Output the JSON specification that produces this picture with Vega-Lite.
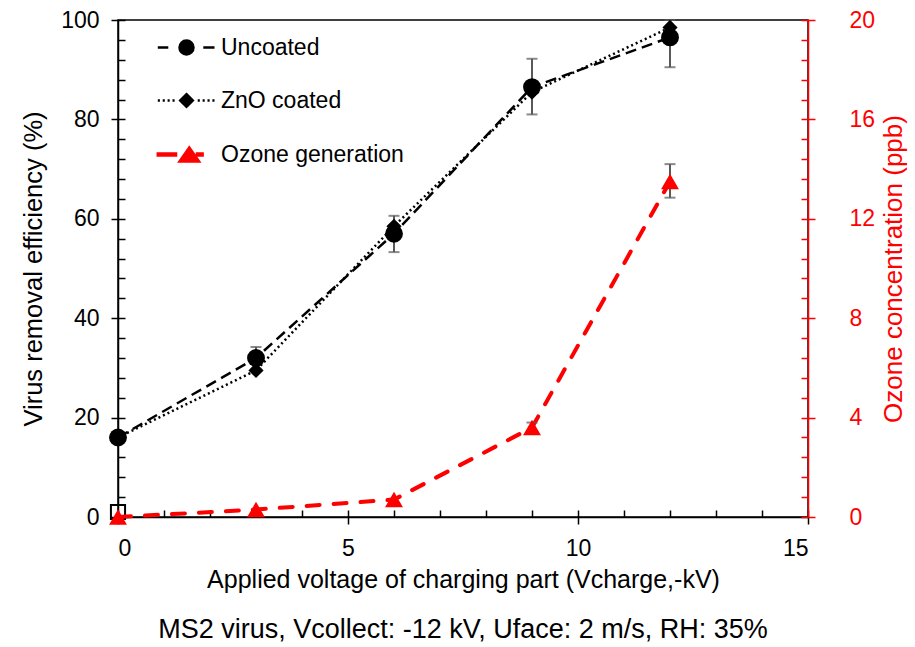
{
  "$schema": "https://vega.github.io/schema/vega-lite/v6.json",
  "width": 690,
  "height": 497,
  "autosize": "none",
  "padding": {"left": 118, "top": 20, "right": 107, "bottom": 130},
  "background": "white",
  "config": {
    "font": "Liberation Sans",
    "view": {"stroke": "black", "strokeWidth": 1.5},
    "axis": {"grid": false, "tickColor": "black", "domainColor": "black", "tickWidth": 1.5, "domainWidth": 1.5, "labelColor": "black", "titleColor": "black", "titleFontWeight": "normal", "labelFont": "Liberation Sans", "titleFont": "Liberation Sans"}
  },
  "title": {
    "text": "MS2 virus, Vcollect: -12 kV, Uface: 2 m/s, RH: 35%",
    "orient": "bottom",
    "anchor": "middle",
    "fontSize": 27,
    "fontWeight": "normal",
    "font": "Liberation Sans",
    "color": "black",
    "offset": 25
  },
  "datasets": {
    "virus": [
      {"v": 0, "series": "Uncoated", "eff": 16},
      {"v": 3, "series": "Uncoated", "eff": 32},
      {"v": 6, "series": "Uncoated", "eff": 57},
      {"v": 9, "series": "Uncoated", "eff": 86.5},
      {"v": 12, "series": "Uncoated", "eff": 96.5},
      {"v": 0, "series": "ZnO coated", "eff": 16},
      {"v": 3, "series": "ZnO coated", "eff": 29.5},
      {"v": 6, "series": "ZnO coated", "eff": 58.5},
      {"v": 9, "series": "ZnO coated", "eff": 85.5},
      {"v": 12, "series": "ZnO coated", "eff": 98.5}
    ],
    "virusErr": [
      {"v": 3, "lo": 29.8, "hi": 34.2},
      {"v": 6, "lo": 53.3, "hi": 60.6},
      {"v": 9, "lo": 81, "hi": 92.2},
      {"v": 12, "lo": 90.5, "hi": 100}
    ],
    "ozone": [
      {"v": 0, "ozone": 0, "lo": 0, "hi": 0},
      {"v": 3, "ozone": 0.3, "lo": 0.3, "hi": 0.3},
      {"v": 6, "ozone": 0.7, "lo": 0.7, "hi": 0.7},
      {"v": 9, "ozone": 3.6, "lo": 3.45, "hi": 3.8},
      {"v": 12, "ozone": 13.5, "lo": 12.85, "hi": 14.2}
    ],
    "marker": [{"v": 0, "eff": 1}],
    "legend": [
      {"s": "Uncoated"},
      {"s": "ZnO coated"},
      {"s": "Ozone generation"}
    ]
  },
  "layer": [
    {
      "layer": [
        {
          "data": {"name": "virus"},
          "transform": [{"filter": "datum.series === 'Uncoated'"}],
          "mark": {"type": "line", "color": "black", "strokeWidth": 2.5, "strokeDash": [11, 6]},
          "encoding": {
            "x": {"field": "v", "type": "quantitative", "scale": {"domain": [0, 15], "nice": false},
              "axis": {"orient": "bottom", "values": [0, 5, 10, 15], "tickSize": 7, "labelFontSize": 23, "labelPadding": 13, "title": "Applied voltage of charging part (Vcharge,-kV)", "titleFontSize": 25, "titlePadding": 7}},
            "y": {"field": "eff", "type": "quantitative", "scale": {"domain": [0, 100], "nice": false},
              "axis": {"orient": "left", "values": [0, 20, 40, 60, 80, 100], "tickSize": 7, "labelFontSize": 23, "labelPadding": 12, "title": "Virus removal efficiency (%)", "titleFontSize": 25.5, "titlePadding": 14}}
          }
        },
        {
          "data": {"name": "virus"},
          "transform": [{"filter": "datum.series === 'ZnO coated'"}],
          "mark": {"type": "line", "color": "black", "strokeWidth": 2.5, "strokeDash": [2, 3]},
          "encoding": {
            "x": {"field": "v", "type": "quantitative", "scale": {"domain": [0, 15], "nice": false},
              "axis": {"orient": "bottom", "values": [0, 1, 2, 3, 4, 5, 6, 7, 8, 9, 10, 11, 12, 13, 14, 15], "tickSize": -7, "labels": false, "domain": false, "title": null}},
            "y": {"field": "eff", "type": "quantitative", "scale": {"domain": [0, 100], "nice": false},
              "axis": {"orient": "left", "values": [0, 4, 8, 12, 16, 20, 24, 28, 32, 36, 40, 44, 48, 52, 56, 60, 64, 68, 72, 76, 80, 84, 88, 92, 96, 100], "tickSize": -7, "labels": false, "domain": false, "title": null}}
          }
        },
        {
          "data": {"name": "virusErr"},
          "mark": {"type": "rule", "color": "#595959", "strokeWidth": 2},
          "encoding": {
            "x": {"field": "v", "type": "quantitative", "scale": {"domain": [0, 15], "nice": false}, "axis": null},
            "y": {"field": "lo", "type": "quantitative", "scale": {"domain": [0, 100], "nice": false}, "axis": null},
            "y2": {"field": "hi"}
          }
        },
        {
          "data": {"name": "virusErr"},
          "mark": {"type": "tick", "color": "#595959", "orient": "horizontal", "size": 11, "thickness": 2},
          "encoding": {
            "x": {"field": "v", "type": "quantitative", "scale": {"domain": [0, 15], "nice": false}, "axis": null},
            "y": {"field": "lo", "type": "quantitative", "scale": {"domain": [0, 100], "nice": false}, "axis": null}
          }
        },
        {
          "data": {"name": "virusErr"},
          "mark": {"type": "tick", "color": "#595959", "orient": "horizontal", "size": 11, "thickness": 2},
          "encoding": {
            "x": {"field": "v", "type": "quantitative", "scale": {"domain": [0, 15], "nice": false}, "axis": null},
            "y": {"field": "hi", "type": "quantitative", "scale": {"domain": [0, 100], "nice": false}, "axis": null}
          }
        },
        {
          "data": {"name": "virus"},
          "transform": [{"filter": "datum.series === 'Uncoated'"}],
          "mark": {"type": "point", "shape": "circle", "filled": true, "color": "black", "size": 320, "opacity": 1},
          "encoding": {
            "x": {"field": "v", "type": "quantitative", "scale": {"domain": [0, 15], "nice": false}, "axis": null},
            "y": {"field": "eff", "type": "quantitative", "scale": {"domain": [0, 100], "nice": false}, "axis": null}
          }
        },
        {
          "data": {"name": "virus"},
          "transform": [{"filter": "datum.series === 'ZnO coated'"}],
          "mark": {"type": "point", "shape": "diamond", "filled": true, "color": "black", "size": 230, "opacity": 1},
          "encoding": {
            "x": {"field": "v", "type": "quantitative", "scale": {"domain": [0, 15], "nice": false}, "axis": null},
            "y": {"field": "eff", "type": "quantitative", "scale": {"domain": [0, 100], "nice": false}, "axis": null}
          }
        },
        {
          "data": {"name": "marker"},
          "mark": {"type": "point", "shape": "square", "filled": false, "color": "black", "size": 200, "strokeWidth": 2, "opacity": 1},
          "encoding": {
            "x": {"field": "v", "type": "quantitative", "scale": {"domain": [0, 15], "nice": false}, "axis": null},
            "y": {"field": "eff", "type": "quantitative", "scale": {"domain": [0, 100], "nice": false}, "axis": null}
          }
        },
        {
          "data": {"name": "legend"},
          "mark": {"type": "point", "filled": true, "opacity": 0},
          "encoding": {
            "x": {"datum": 0, "type": "quantitative", "scale": {"domain": [0, 15], "nice": false}, "axis": null},
            "y": {"datum": 0, "type": "quantitative", "scale": {"domain": [0, 100], "nice": false}, "axis": null},
            "shape": {"field": "s", "type": "nominal",
              "scale": {"domain": ["Uncoated", "ZnO coated", "Ozone generation"],
                "range": [
                  "M-4.1,0H-2.6M2.4,0H4M-1,0A1,1,0,1,1,1,0A1,1,0,1,1,-1,0Z",
                  "M-4.1,0H-3.8M-3.4,0H-3.1M-2.7,0H-2.4M-2,0H-1.7M1.6,0H1.9M2.3,0H2.6M3,0H3.3M3.7,0H4M0,-0.9L0.9,0L0,0.9L-0.9,0Z",
                  "M-4.1,-0.15H-1.5V0.15H-4.1Z M0.4,-1L1.8,1L-1,1Z M1.5,-0.15H2.3V0.15H1.5Z"
                ]},
              "legend": {"title": null, "orient": "none", "legendX": 57, "legendY": 16, "symbolSize": 196, "symbolStrokeWidth": 2.5, "symbolOpacity": 1, "labelFontSize": 23, "labelColor": "black", "labelFont": "Liberation Sans", "labelOffset": 23, "rowPadding": 29, "padding": 0, "labelLimit": 400}},
            "fill": {"field": "s", "type": "nominal",
              "scale": {"domain": ["Uncoated", "ZnO coated", "Ozone generation"], "range": ["black", "black", "#ff0000"]},
              "legend": {"title": null, "orient": "none", "legendX": 57, "legendY": 16, "symbolSize": 196, "symbolStrokeWidth": 2.5, "symbolOpacity": 1, "labelFontSize": 23, "labelColor": "black", "labelFont": "Liberation Sans", "labelOffset": 23, "rowPadding": 29, "padding": 0, "labelLimit": 400}},
            "stroke": {"field": "s", "type": "nominal",
              "scale": {"domain": ["Uncoated", "ZnO coated", "Ozone generation"], "range": ["black", "black", "#ff0000"]},
              "legend": {"title": null, "orient": "none", "legendX": 57, "legendY": 16, "symbolSize": 196, "symbolStrokeWidth": 2.5, "symbolOpacity": 1, "labelFontSize": 23, "labelColor": "black", "labelFont": "Liberation Sans", "labelOffset": 23, "rowPadding": 29, "padding": 0, "labelLimit": 400}}
          }
        }
      ],
      "resolve": {"axis": {"x": "independent", "y": "independent"}}
    },
    {
      "layer": [
        {
          "data": {"name": "ozone"},
          "mark": {"type": "line", "color": "#ff0000", "strokeWidth": 4, "strokeDash": [13, 14], "strokeCap": "round"},
          "encoding": {
            "x": {"field": "v", "type": "quantitative", "scale": {"domain": [0, 15], "nice": false}, "axis": null},
            "y": {"field": "ozone", "type": "quantitative", "scale": {"domain": [0, 20], "nice": false},
              "axis": {"orient": "right", "values": [0, 4, 8, 12, 16, 20], "tickSize": 7, "tickColor": "#ff0000", "domainColor": "#ff0000", "labelColor": "#ff0000", "titleColor": "#ff0000", "labelFontSize": 23, "labelPadding": 34, "title": "Ozone concentration (ppb)", "titleFontSize": 26, "titlePadding": 6, "titleAngle": 270, "titleBaseline": "top"}}
          }
        },
        {
          "data": {"name": "ozone"},
          "mark": {"type": "rule", "color": "#595959", "strokeWidth": 2},
          "encoding": {
            "x": {"field": "v", "type": "quantitative", "scale": {"domain": [0, 15], "nice": false}, "axis": null},
            "y": {"field": "lo", "type": "quantitative", "scale": {"domain": [0, 20], "nice": false},
              "axis": {"orient": "right", "values": [0, 0.8, 1.6, 2.4, 3.2, 4, 4.8, 5.6, 6.4, 7.2, 8, 8.8, 9.6, 10.4, 11.2, 12, 12.8, 13.6, 14.4, 15.2, 16, 16.8, 17.6, 18.4, 19.2, 20], "tickSize": -7, "tickColor": "#ff0000", "labels": false, "domain": false, "title": null}},
            "y2": {"field": "hi"}
          }
        },
        {
          "data": {"name": "ozone"},
          "transform": [{"filter": "datum.hi > datum.lo"}],
          "mark": {"type": "tick", "color": "#595959", "orient": "horizontal", "size": 11, "thickness": 2},
          "encoding": {
            "x": {"field": "v", "type": "quantitative", "scale": {"domain": [0, 15], "nice": false}, "axis": null},
            "y": {"field": "lo", "type": "quantitative", "scale": {"domain": [0, 20], "nice": false}, "axis": null}
          }
        },
        {
          "data": {"name": "ozone"},
          "transform": [{"filter": "datum.hi > datum.lo"}],
          "mark": {"type": "tick", "color": "#595959", "orient": "horizontal", "size": 11, "thickness": 2},
          "encoding": {
            "x": {"field": "v", "type": "quantitative", "scale": {"domain": [0, 15], "nice": false}, "axis": null},
            "y": {"field": "hi", "type": "quantitative", "scale": {"domain": [0, 20], "nice": false}, "axis": null}
          }
        },
        {
          "data": {"name": "ozone"},
          "mark": {"type": "point", "shape": "triangle-up", "filled": true, "color": "#ff0000", "size": 320, "opacity": 1},
          "encoding": {
            "x": {"field": "v", "type": "quantitative", "scale": {"domain": [0, 15], "nice": false}, "axis": null},
            "y": {"field": "ozone", "type": "quantitative", "scale": {"domain": [0, 20], "nice": false}, "axis": null}
          }
        }
      ],
      "resolve": {"axis": {"y": "independent"}}
    }
  ],
  "resolve": {"scale": {"y": "independent"}, "axis": {"x": "independent", "y": "independent"}}
}
